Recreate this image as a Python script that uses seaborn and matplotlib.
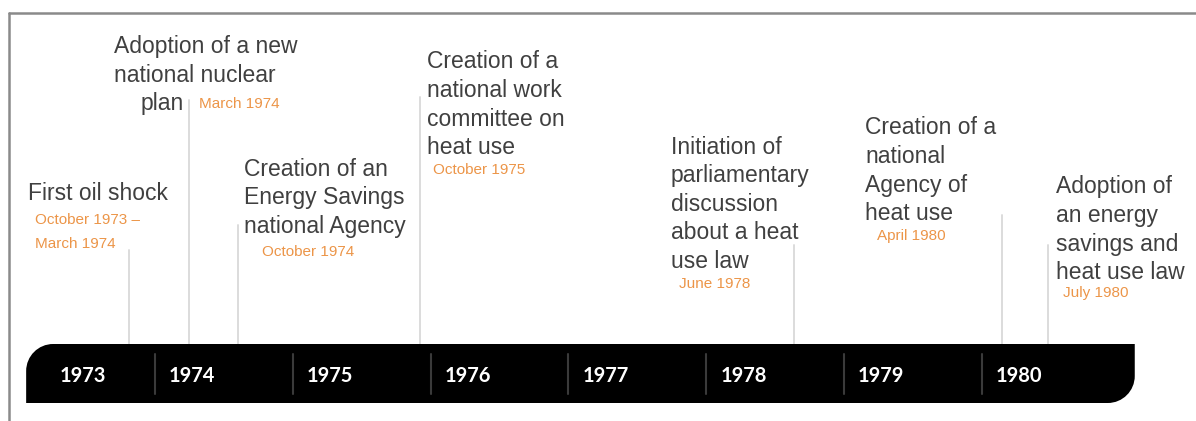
"""
Timeline of French energy-saving policy milestones, 1973-1980.
"""

import numpy as np
import pandas as pd
import matplotlib
matplotlib.use("Agg")
import matplotlib.pyplot as plt
import seaborn as sns
from matplotlib.path import Path
from matplotlib.patches import PathPatch
from matplotlib.lines import Line2D

# Data
YEARS = [1973, 1974, 1975, 1976, 1977, 1978, 1979, 1980]

EVENTS = [
    "First oil shock",
    "Adoption of a new\nnational nuclear\nplan",
    "Creation of an\nEnergy Savings\nnational Agency",
    "Creation of a\nnational work\ncommittee on\nheat use",
    "Initiation of\nparliamentary\ndiscussion\nabout a heat\nuse law",
    "Creation of a\nnational\nAgency of\nheat use",
    "Adoption of\nan energy\nsavings and\nheat use law",
]
DATES = [
    "October 1973 \u2013\nMarch 1974",
    "March 1974",
    "October 1974",
    "October 1975",
    "June 1978",
    "April 1980",
    "July 1980",
]
# position of each event on the timeline (fractional years, as drawn)
EVENT_POS = [1973.81, 1974.25, 1974.60, 1975.92, 1978.64, 1980.15, 1980.48]

# Layout (timeline units on x, pixels above the bar on y)
STEM_TOP = [94, 244, 119, 247, 99, 129, 99]
TITLE_X = [1973.078, 1973.702, 1974.646, 1975.974, 1977.745, 1979.152, 1980.538]
TITLE_Y = [144, 291, 168.5, 275.5, 190.5, 209.5, 150.5]
TITLE_INDENT = {(1, 2): 0.196}  # "plan" sits a little to the right
DATE_X = [1973.129, 1974.319, 1974.776, 1976.017, 1977.803, 1979.240, 1980.590]
DATE_Y = [120, 236, 88, 170, 56, 104, 47]
YEAR_LABEL_OFFSET = [0.48, 0.27, 0.27, 0.27, 0.27, 0.27, 0.27, 0.27]

BAR_X0, BAR_X1 = 1973.065, 1981.110
BAR_H = 59
PX_PER_YEAR = 137.8
CORNER = 27

TEXT_COLOR = "#404040"
DATE_COLOR = "#EC9548"
STEM_COLOR = "#DCDCDC"

sns.set_theme(style="white")
plt.rcParams["font.family"] = ["Liberation Sans", "DejaVu Sans"]

fig = plt.figure(figsize=(11.96, 4.21), dpi=100)
ax = fig.add_axes([0, 0, 1, 1])
ax.set_xlim(1974 - 155 / PX_PER_YEAR, 1974 + 1041 / PX_PER_YEAR)
ax.set_ylim(-77, 344)
ax.axis("off")

# event stems
stems = pd.DataFrame({
    "x": np.repeat(EVENT_POS, 2),
    "y": np.ravel([[0, h] for h in STEM_TOP]),
    "event": np.repeat(range(len(EVENT_POS)), 2),
})
sns.lineplot(data=stems, x="x", y="y", units="event", estimator=None,
             sort=False, color=STEM_COLOR, lw=1.4, ax=ax, zorder=1)

# black year bar: rounded top-left and bottom-right corners
rx = CORNER / PX_PER_YEAR
k = 0.5523
yt, yb = 0, -BAR_H
verts = [
    (BAR_X0, yb), (BAR_X0, yt - CORNER),
    (BAR_X0, yt - CORNER * (1 - k)), (BAR_X0 + rx * (1 - k), yt), (BAR_X0 + rx, yt),
    (BAR_X1, yt), (BAR_X1, yb + CORNER),
    (BAR_X1, yb + CORNER * (1 - k)), (BAR_X1 - rx * (1 - k), yb), (BAR_X1 - rx, yb),
    (BAR_X0, yb), (BAR_X0, yb),
]
codes = [Path.MOVETO, Path.LINETO,
         Path.CURVE4, Path.CURVE4, Path.CURVE4,
         Path.LINETO, Path.LINETO,
         Path.CURVE4, Path.CURVE4, Path.CURVE4,
         Path.LINETO, Path.CLOSEPOLY]
ax.add_patch(PathPatch(Path(verts, codes), facecolor="black",
                       edgecolor="none", zorder=2))

# year separators inside the bar
seps = pd.DataFrame({
    "x": np.repeat(YEARS[1:], 2),
    "y": [-10, -50] * (len(YEARS) - 1),
    "year": np.repeat(YEARS[1:], 2),
})
sns.lineplot(data=seps, x="x", y="y", units="year", estimator=None,
             sort=False, color="#3A3A3A", lw=1.5, ax=ax, zorder=3)

for yr, off in zip(YEARS, YEAR_LABEL_OFFSET):
    ax.text(yr + off, -BAR_H / 2 - 3, str(yr), color="white",
            fontsize=14.5, family=["Lato", "DejaVu Sans"], fontweight="bold",
            ha="center", va="center", zorder=4)

# event titles, line by line
line_step = 28.6
for i, (title, tx, ty) in enumerate(zip(EVENTS, TITLE_X, TITLE_Y)):
    for j, line in enumerate(title.split("\n")):
        ax.text(tx + TITLE_INDENT.get((i, j), 0), ty - j * line_step, line,
                color=TEXT_COLOR, fontsize=16.5, ha="left", va="baseline",
                zorder=5)

# dates
for i, (d, dx, dy) in enumerate(zip(DATES, DATE_X, DATE_Y)):
    for j, line in enumerate(d.split("\n")):
        ax.text(dx, dy - j * 24, line, color=DATE_COLOR, fontsize=11,
                ha="left", va="baseline", zorder=5)

# slide frame (top and left edges)
fig.add_artist(Line2D([9 / 1196, 1], [1 - 13 / 421] * 2, color="#8A8A8A", lw=1.8))
fig.add_artist(Line2D([9 / 1196] * 2, [0, 1 - 13 / 421], color="#8A8A8A", lw=1.8))

fig.savefig("out.png", dpi=100, facecolor="white")
